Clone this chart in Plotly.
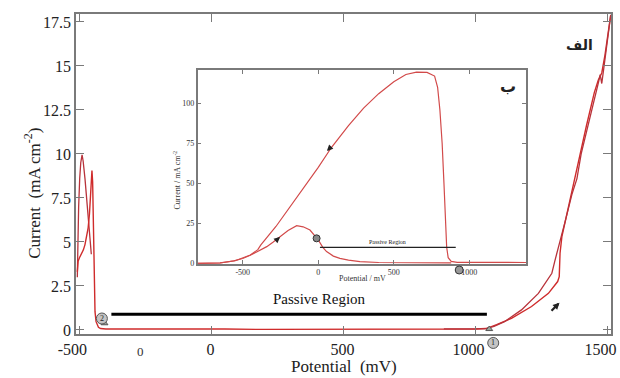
import plotly.graph_objects as go

NB = "\u00a0"

# ---------------- main chart data ----------------
x_ticks = [-500, 0, 500, 1000, 1500]
x_tick_text = ["-500", NB * 3 + "0", NB * 3 + "500", "1000", "1500"]
y_ticks = [0, 2.5, 5, 7.5, 10, 12.5, 15, 17.5]
y_tick_text = ["0", "2.5", "5", "7.5", "10", "12.5", "15", "17.5"]

# initial spike (first active peak)
spike_x = [-508, -506, -503, -499, -495, -490, -486, -479, -473, -467, -460, -455]
spike_y = [3.0, 5.0, 7.0, 8.6, 9.5, 9.95, 9.6, 8.6, 7.6, 6.7, 5.2, 4.3]

# forward scan
fwd_x = [-508, -505, -500, -492, -485, -479, -472, -467, -462, -457.6, -455, -452.6, -450,
         -447.6, -445, -441, -437, -432, -428, -420, -400, -300, -200, -100, 0, 50, 200,
         400, 600, 800, 900, 1000, 1040, 1060, 1080, 1136, 1212, 1276, 1300, 1311, 1317,
         1320, 1327, 1346, 1380, 1420, 1450, 1465, 1478, 1490, 1502, 1512]
fwd_y = [3.3, 3.9, 4.1, 4.3, 4.55, 4.85, 5.3, 5.8, 6.6, 7.7, 8.6, 9.05, 8.4,
         6.7, 2.9, 1.04, 0.47, 0.25, 0.15, 0.08, 0.05, 0.05, 0.06, 0.05, 0.04, 0.05, 0.03,
         0.03, 0.03, 0.04, 0.04, 0.05, 0.08, 0.17, 0.3, 0.66, 1.33, 2.08, 2.5, 2.75, 3.03,
         4.36, 5.3, 6.63, 8.9, 11.6, 13.5, 14.2, 14.6, 15.6, 16.8, 17.9]

# reverse scan
rev_x = [1512, 1505, 1495, 1486, 1478, 1472, 1466, 1450, 1420, 1400, 1384, 1365, 1340,
         1320, 1300, 1289, 1238, 1174, 1110, 1070, 1040, 1000, 950, 880]
rev_y = [17.9, 17.0, 15.8, 14.9, 14.0, 14.5, 14.1, 13.1, 11.2, 10.0, 8.6, 7.7, 6.2,
         5.1, 3.9, 3.22, 2.08, 1.14, 0.47, 0.2, 0.08, 0.06, 0.07, 0.06]

passive_x = [-379, 1043]
passive_y = [0.89, 0.89]
passive_label = "Passive Region"

# circled point labels (main chart)
pt_labels = ["2", "1"]
pt_x = [-415, 1067]

# ---------------- inset data ----------------
in_x_ticks = [-500, 0, 500, 1000]
in_x_tick_text = ["-500", "0", "500", "1000"]
in_y_ticks = [0, 25, 50, 75, 100]
in_y_tick_text = ["0", "25", "50", "75", "100"]

in_low_x = [-800, -650, -560, -500, -450, -400, -341, -300, -253, -200, -143, -100, -55,
            -20, 0, 30, 55, 100, 143, 200, 276, 400, 600, 880]
in_low_y = [0, 0.2, 1.5, 3.0, 5.0, 7.5, 10.4, 13.2, 16.6, 20.5, 23.5, 22.8, 20.8,
            17, 14.6, 10, 7.3, 4.5, 3.1, 2.0, 1.0, 0.5, 0.3, 0.3]

in_up_x = [-800, -650, -550, -450, -400, -380, -280, -150, 0, 88, 200, 300, 400, 500,
           580, 650, 720, 770, 790, 805, 820, 832, 842, 850, 860, 880, 920, 1100, 1375]
in_up_y = [0, 0.3, 1.6, 5.2, 8.5, 11.5, 23, 40, 60, 72.5, 86, 97, 106, 113.5,
           118, 119.5, 119.3, 117, 110, 96, 75, 50, 25, 10, 3.5, 1.2, 0.6, 0.5, 0.5]

in_passive_x = [11, 910]
in_passive_y = [10, 10]

RED = "#cf2b2b"
INRED = "#d24a4a"
AX = "#7a7a7a"
SERIF = "Liberation Serif"

fig = go.Figure()

fig.add_trace(go.Scatter(x=spike_x, y=spike_y, mode="lines",
                         line=dict(color="#b8323a", width=1.3), hoverinfo="skip"))
fig.add_trace(go.Scatter(x=fwd_x, y=fwd_y, mode="lines",
                         line=dict(color=RED, width=1.4), hoverinfo="skip"))
fig.add_trace(go.Scatter(x=rev_x, y=rev_y, mode="lines",
                         line=dict(color="#b8323a", width=1.3), hoverinfo="skip"))
fig.add_trace(go.Scatter(x=passive_x, y=passive_y, mode="lines",
                         line=dict(color="black", width=3), hoverinfo="skip"))

fig.add_trace(go.Scatter(x=[-405, 1052], y=[0.38, 0.05], mode="markers",
                         marker=dict(size=6, symbol="triangle-up", color="#9aa59a",
                                     line=dict(color="#555", width=1)),
                         cliponaxis=False, hoverinfo="skip"))

fig.add_trace(go.Scatter(x=in_low_x, y=in_low_y, mode="lines", xaxis="x2", yaxis="y2",
                         line=dict(color=INRED, width=1.2), hoverinfo="skip"))
fig.add_trace(go.Scatter(x=in_up_x, y=in_up_y, mode="lines", xaxis="x2", yaxis="y2",
                         line=dict(color=INRED, width=1.2), hoverinfo="skip"))
fig.add_trace(go.Scatter(x=in_passive_x, y=in_passive_y, mode="lines", xaxis="x2", yaxis="y2",
                         line=dict(color="#222", width=1.2), hoverinfo="skip"))
fig.add_trace(go.Scatter(x=[-11], y=[15.6], mode="markers", xaxis="x2", yaxis="y2",
                         marker=dict(size=7, color="#888", line=dict(color="#333", width=1)),
                         hoverinfo="skip"))

axis_common = dict(showline=True, linecolor=AX, linewidth=1.5, mirror="allticks",
                   ticks="inside", tickcolor=AX, showgrid=False, zeroline=False,
                   automargin=False, ticklabeloverflow="allow")

fig.update_layout(
    width=620, height=378, autosize=False,
    margin=dict(l=76, r=9, t=14, b=44, pad=0),
    paper_bgcolor="white", plot_bgcolor="white",
    showlegend=False,
    xaxis=dict(domain=[0, 1], range=[-513, 1513], tickvals=x_ticks, ticktext=x_tick_text,
               ticklen=8, tickwidth=1.2, ticklabelshift=-7,
               tickfont=dict(family=SERIF, size=16, color="#222"), **axis_common),
    yaxis=dict(domain=[0, 1], range=[-0.23, 17.95], tickvals=y_ticks, ticktext=y_tick_text,
               ticklen=8, tickwidth=1.2, tickfont=dict(family=SERIF, size=16, color="#222"),
               **axis_common),
    xaxis2=dict(domain=[0.2275, 0.8411], anchor="y2", range=[-798, 1375],
                tickvals=in_x_ticks, ticktext=in_x_tick_text, ticklen=4, tickwidth=1,
                tickfont=dict(family=SERIF, size=8, color="#333"), **axis_common),
    yaxis2=dict(domain=[0.21875, 0.825], anchor="x2", range=[-0.44, 120.8],
                tickvals=in_y_ticks, ticktext=in_y_tick_text, ticklen=4, tickwidth=1,
                tickfont=dict(family=SERIF, size=8, color="#333"), **axis_common),
)

shapes = [
    dict(type="circle", xref="x", yref="paper", xsizemode="pixel", ysizemode="pixel",
         xanchor=pt_x[0], yanchor=0.0484, x0=-5.5, x1=5.5, y0=-5.5, y1=5.5,
         fillcolor="#c4c4c4", line=dict(color="#555", width=1)),
    dict(type="circle", xref="x", yref="paper", xsizemode="pixel", ysizemode="pixel",
         xanchor=pt_x[1], yanchor=-0.028, x0=-5.5, x1=5.5, y0=-5.5, y1=5.5,
         fillcolor="#c4c4c4", line=dict(color="#555", width=1)),
    dict(type="circle", xref="x2", yref="paper", xsizemode="pixel", ysizemode="pixel",
         xanchor=933, yanchor=0.2, x0=-4, x1=4, y0=-4, y1=4,
         fillcolor="#999", line=dict(color="#333", width=1)),
]
fig.update_layout(shapes=shapes)

annotations = [
    dict(text="Potential  (mV)", xref="paper", yref="paper", x=0.5, y=-0.1,
         showarrow=False, font=dict(family=SERIF, size=17, color="#222"),
         xanchor="center", yanchor="middle"),
    dict(text="Current  (mA cm<sup>-2</sup>)", xref="paper", yref="paper", x=-0.081, y=0.44,
         textangle=-90, showarrow=False, font=dict(family=SERIF, size=17, color="#222"),
         xanchor="center", yanchor="middle"),
    dict(text="0", xref="paper", yref="paper", x=0.12, y=-0.056, showarrow=False,
         xanchor="center", yanchor="middle",
         font=dict(family=SERIF, size=13, color="#333")),
    dict(text=passive_label, xref="x", yref="y", x=410, y=1.76, showarrow=False,
         font=dict(family=SERIF, size=15, color="#111")),
    dict(text="<b>الف</b>", xref="paper", yref="paper", x=0.971, y=0.934, showarrow=False,
         font=dict(family="DejaVu Sans", size=14, color="#222")),
    dict(text="<b>ب</b>", xref="paper", yref="paper", x=0.826, y=0.81, showarrow=False,
         font=dict(family="DejaVu Sans", size=16, color="#222")),
    dict(text=pt_labels[0], xref="x", yref="paper", x=pt_x[0], y=0.0484, showarrow=False,
         xanchor="center", yanchor="middle", font=dict(family=SERIF, size=8, color="#222")),
    dict(text=pt_labels[1], xref="x", yref="paper", x=pt_x[1], y=-0.028, showarrow=False,
         xanchor="center", yanchor="middle", font=dict(family=SERIF, size=8, color="#222")),
    dict(x=1318, y=1.55, xref="x", yref="y", ax=-11, ay=11, showarrow=True, text=" ",
         arrowhead=2, arrowsize=0.6, arrowwidth=2.2, arrowcolor="#222"),
    dict(text="Current / mA cm<sup>-2</sup>", xref="paper", yref="paper", x=0.189, y=0.48,
         textangle=-90, showarrow=False, font=dict(family=SERIF, size=8, color="#333"),
         xanchor="center", yanchor="middle"),
    dict(text="Potential / mV", xref="paper", yref="paper", x=0.535, y=0.172,
         showarrow=False, font=dict(family=SERIF, size=8, color="#333"),
         xanchor="center", yanchor="middle"),
    dict(text=passive_label, xref="x2", yref="y2", x=460, y=13.5, showarrow=False,
         font=dict(family=SERIF, size=6, color="#222")),
    dict(x=57.6, y=70.2, xref="x2", yref="y2", ax=7, ay=-7, showarrow=True, text=" ",
         arrowhead=2, arrowsize=0.6, arrowwidth=2, arrowcolor="#222"),
    dict(x=-253, y=16.4, xref="x2", yref="y2", ax=-7, ay=6, showarrow=True, text=" ",
         arrowhead=2, arrowsize=0.6, arrowwidth=2, arrowcolor="#222"),
]
fig.update_layout(annotations=annotations)

fig.write_html("out.html", config={"displayModeBar": False},
               post_script="document.body.style.margin='0';document.body.style.overflow='hidden';")
